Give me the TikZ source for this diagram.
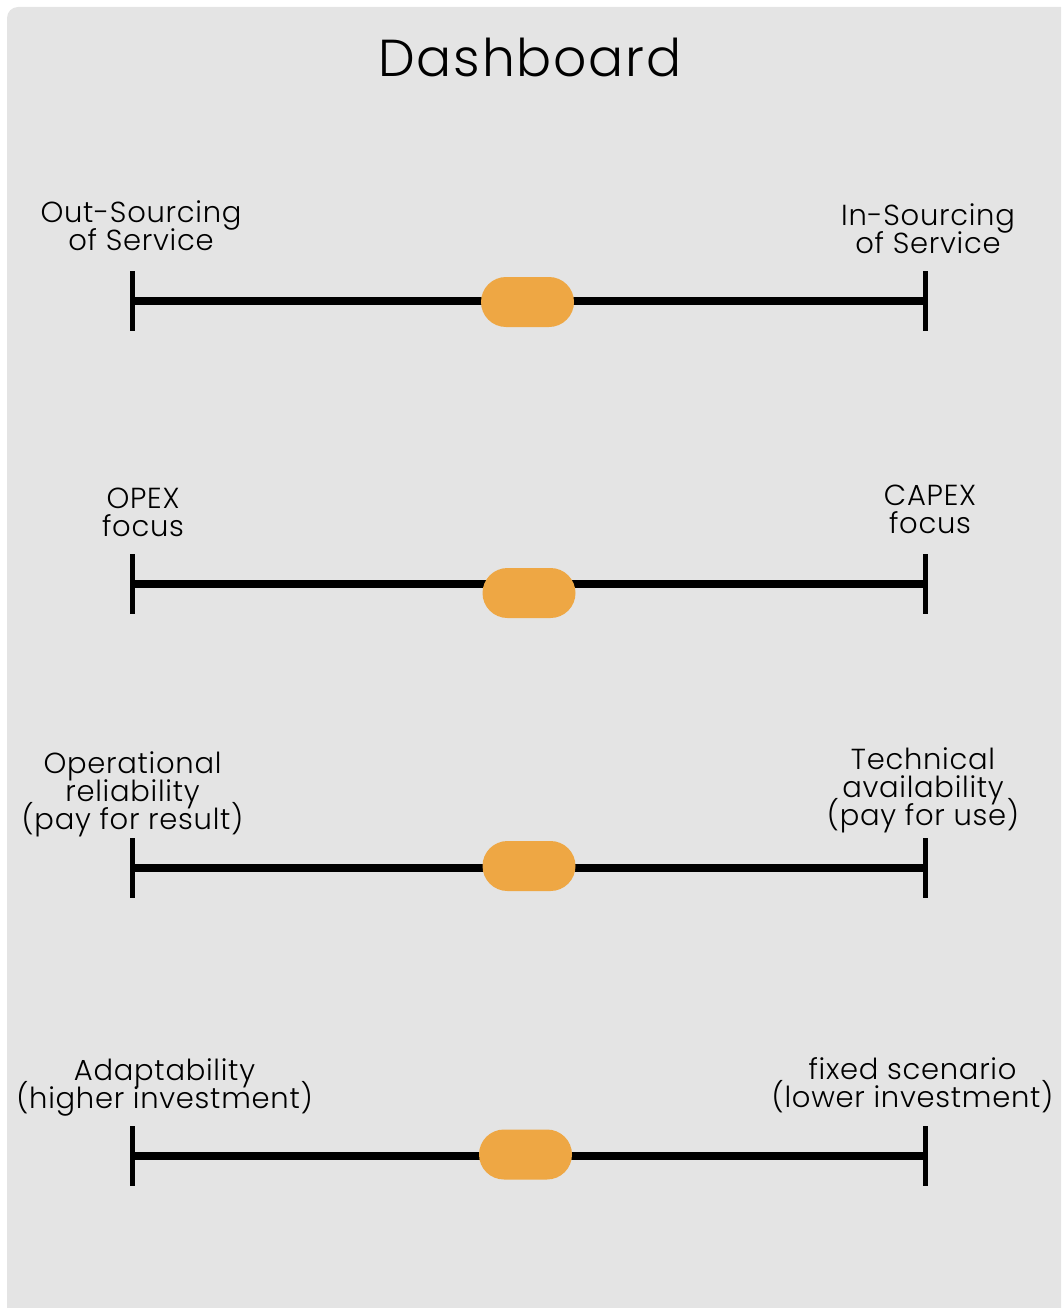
\documentclass[tikz,border=0pt]{standalone}
\usepackage{fontspec}
\IfFontExistsTF{Poppins Light}{%
  \setmainfont{Poppins Light}[LetterSpace=2.5]%
  \newfontfamily\titlefont{Poppins Light}[LetterSpace=3.5]}{%
  \setmainfont{Poppins}[LetterSpace=2.5]%
  \newfontfamily\titlefont{Poppins}[LetterSpace=3.5]}
\definecolor{panel}{HTML}{E4E4E4}
\definecolor{knobfill}{HTML}{EEA744}
% fixed line pitch, whatever the glyph heights
\newcommand\fixedlines{\lineskiplimit=-100pt\relax\lineskip=0pt\relax}
\tikzset{
  % anchor=base sits on the baseline of the last line
  label text/.style={font=\fontsize{29}{28}\selectfont\fixedlines, align=center, anchor=base, inner sep=0pt, text=black},
  title text/.style={font=\titlefont\fontsize{52}{60}\selectfont, anchor=base, inner sep=0pt},
  scale bar/.style={line width=8pt, line cap=butt, black},
  end tick/.style={line width=5pt, line cap=butt, black},
  knob/.style={fill=knobfill, draw=none, rounded corners=25pt, minimum width=93pt, minimum height=50pt, inner sep=0pt}
}
\begin{document}
\begin{tikzpicture}[x=1pt, y=-1pt]
\useasboundingbox (0,0) rectangle (1061,1308);
\clip (0,0) rectangle (1061,1308);
% panel
\fill[panel, rounded corners=11pt] (7,7) rectangle (1090,1340);

\node[title text] (title) at (530,77) {Dashboard};

% slider bars: left end, right end, knob
\foreach \i/\y/\ky/\kx in {1/301/302/527.5, 2/584/593/529, 3/868/866/529, 4/1156/1154.5/525.5} {
  \coordinate (L\i) at (132.5,\y);
  \coordinate (R\i) at (925,\y);
  \draw[scale bar] (L\i) -- (R\i);
  \draw[end tick] ([yshift=30pt]L\i) -- ([yshift=-30pt]L\i);
  \draw[end tick] ([yshift=30pt]R\i) -- ([yshift=-30pt]R\i);
  \node[knob] (K\i) at (\kx,\ky) {};
}

% end labels
\node[label text] (a1) at (141,250) {Out-Sourcing\\of Service};
\node[label text] (b1) at (928,253) {In-Sourcing\\of Service};
\node[label text] (a2) at (143,536) {OPEX\\focus};
\node[label text] (b2) at (930,533) {CAPEX\\focus};
\node[label text] (a3) at (132.5,829) {Operational\\reliability\\(pay for result)};
\node[label text] (b3) at (923,825) {Technical\\availability\\(pay for use)};
\node[label text] (a4) at (164.5,1108) {Adaptability\\(higher investment)};
\node[label text] (b4) at (912.5,1107) {fixed scenario\\(lower investment)};
\end{tikzpicture}
\end{document}
